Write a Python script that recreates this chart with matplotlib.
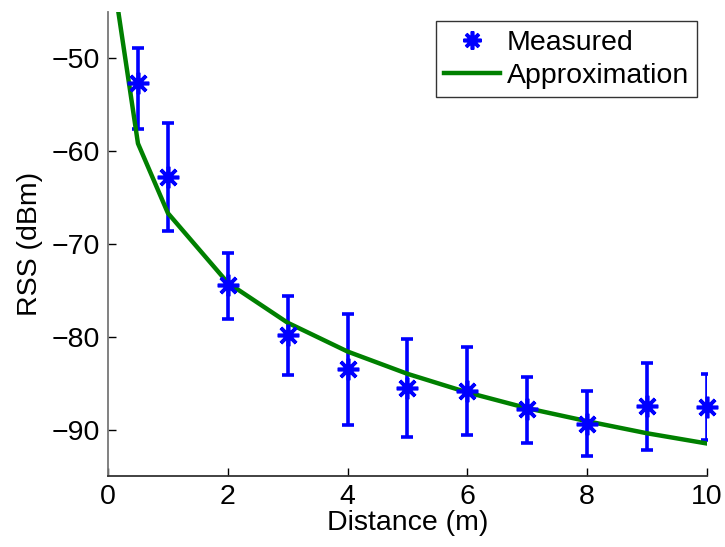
import matplotlib
matplotlib.use("Agg")
import matplotlib.pyplot as plt

plt.rcParams['font.family'] = ['Liberation Sans', 'DejaVu Sans']

# Measured data
dist = [0.5, 1, 2, 3, 4, 5, 6, 7, 8, 9, 10]
rss = [-52.7, -62.8, -74.4, -79.8, -83.5, -85.5, -85.9, -87.8, -89.4, -87.5, -87.6]
err_top = [-48.9, -57.0, -71.0, -75.6, -77.6, -80.2, -81.1, -84.3, -85.8, -82.8, -84.0]
err_bot = [-57.6, -68.6, -78.1, -84.1, -89.5, -90.8, -90.6, -91.4, -92.9, -92.2, -91.1]

# Approximation curve
approx_x = [0.1, 0.5, 1, 2, 3, 4, 5, 6, 7, 8, 9, 10]
approx_y = [-41.9, -59.2, -66.7, -74.2, -78.5, -81.6,
            -84.0, -86.0, -87.7, -89.1, -90.4, -91.5]

xticks = [0, 2, 4, 6, 8, 10]
yticks = [-90, -80, -70, -60, -50]

FS = 20.5

fig = plt.figure(figsize=(7.25, 5.47), dpi=100)
ax = fig.add_axes([0.149, 0.1298, 0.826, 0.849])

lower = [r - b for r, b in zip(rss, err_bot)]
upper = [t - r for r, t in zip(rss, err_top)]

ast = (8, 2, 0)
ax.errorbar(dist, rss, yerr=[lower, upper], fmt='none', ecolor=(0, 0, 1),
            elinewidth=2.6, capsize=4.5, capthick=2.6, zorder=2)
ax.plot(dist, rss, linestyle='none', marker=ast, markersize=15.5,
        markeredgewidth=2.6, color=(0, 0, 1), clip_on=False, zorder=3,
        label='Measured')
ax.plot(approx_x, approx_y, color=(0, 0.5, 0), linewidth=3.2, zorder=2.5,
        label='Approximation')

ax.set_xlim(0, 10)
ax.set_ylim(-95, -45)
ax.set_xticks(xticks)
ax.set_yticks(yticks)
ax.tick_params(direction='in', length=6, width=1, labelsize=FS, colors='black',
               pad=6)
for s in ['top', 'right']:
    ax.spines[s].set_visible(False)
ax.spines['left'].set_color('#777777')
ax.spines['bottom'].set_color('#333333')
ax.spines['left'].set_linewidth(1.3)
ax.spines['bottom'].set_linewidth(1.3)

ax.set_xlabel('Distance (m)', fontsize=FS, labelpad=0)
ax.set_ylabel('RSS (dBm)', fontsize=FS, labelpad=6)

leg = ax.legend(loc='upper right', fontsize=FS, frameon=True, fancybox=False,
                edgecolor='black', borderpad=0.3, handlelength=1.95,
                handletextpad=0.25, labelspacing=0.25, borderaxespad=0.33)
leg.get_frame().set_linewidth(1.0)
leg.legend_handles[0].set_markersize(13)

fig.savefig('out.png', dpi=100)
